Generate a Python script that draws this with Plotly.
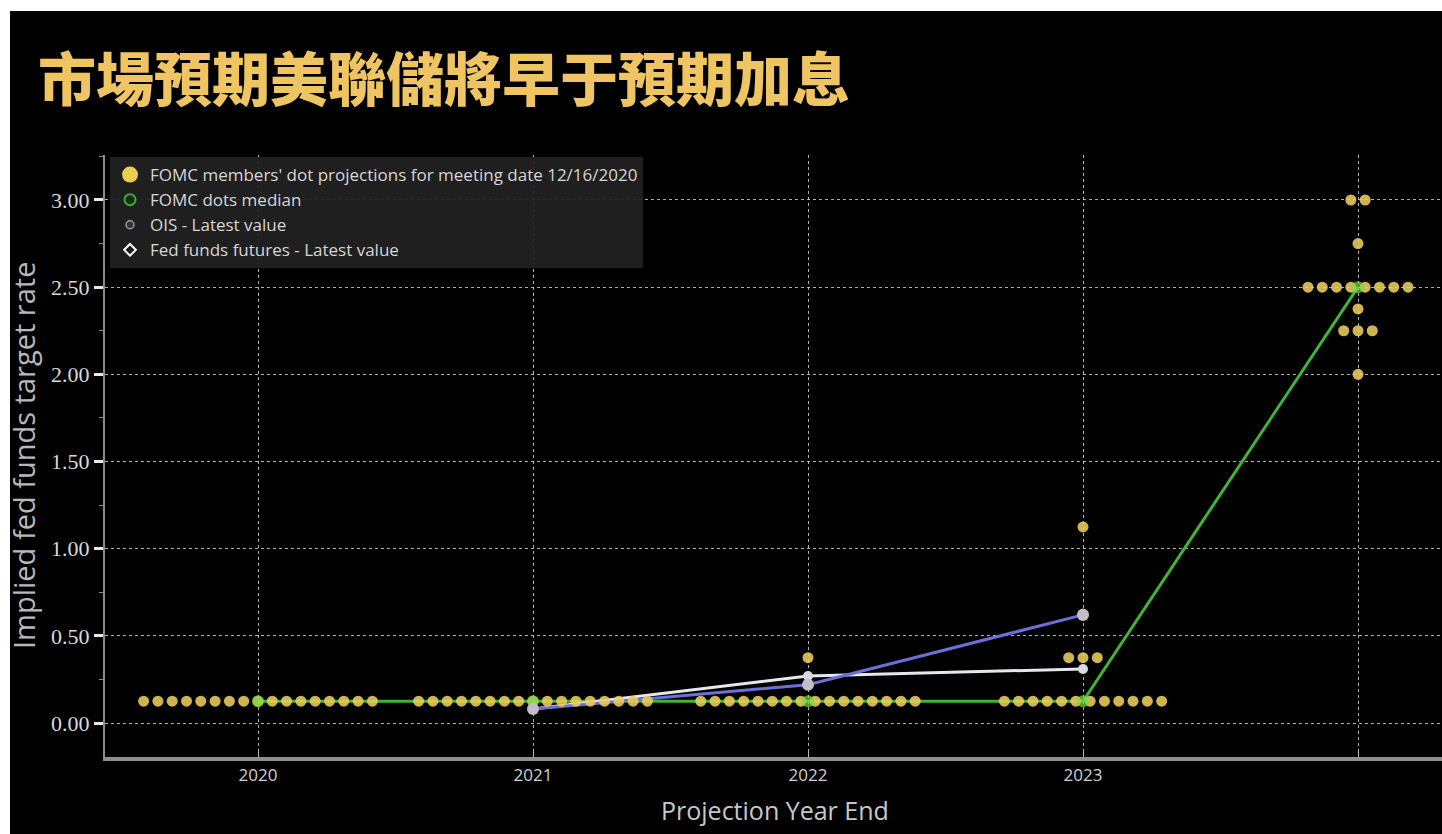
import plotly.graph_objects as go

# ---------------- data ----------------
categories = ["2020", "2021", "2022", "2023", "Longer run"]
cat_x = [2020, 2021, 2022, 2023, 2024]

# FOMC dot plot (12/16/2020): rate levels and number of participants at each level
dot_rates_2020 = [0.125]
dot_counts_2020 = [17]
dot_rates_2021 = [0.125]
dot_counts_2021 = [17]
dot_rates_2022 = [0.125, 0.375]
dot_counts_2022 = [16, 1]
dot_rates_2023 = [0.125, 0.375, 0.625, 1.125]
dot_counts_2023 = [12, 3, 1, 1]
dot_rates_lr = [2.0, 2.25, 2.375, 2.5, 2.75, 3.0]
dot_counts_lr = [1, 3, 1, 8, 1, 2]

median_values = [0.125, 0.125, 0.125, 0.125, 2.5]

market_x = [2021, 2022, 2023]
ois_values = [0.08, 0.22, 0.62]
futures_values = [0.08, 0.27, 0.31]

y_tickvals = [0.0, 0.5, 1.0, 1.5, 2.0, 2.5, 3.0]
x_ticktext = ["2020", "2021", "2022", "2023", ""]

title_text = "市場預期美聯儲將早于預期加息"

# ---------------- layout geometry ----------------
W, H = 1442, 834
ML, MR, MT, MB = 105, 0, 155, 77
PW, PH = W - ML - MR, H - MT - MB
spacing = 0.052  # horizontal spread between dots in a row (years)


def px_to_paper_x(px):
    return (px - ML) / PW


def px_to_paper_y(py):
    return (H - MB - py) / PH


# expand dot groups into beeswarm rows
dot_x, dot_y = [], []
for cx, rates, counts in zip(
    cat_x,
    [dot_rates_2020, dot_rates_2021, dot_rates_2022, dot_rates_2023, dot_rates_lr],
    [dot_counts_2020, dot_counts_2021, dot_counts_2022, dot_counts_2023, dot_counts_lr],
):
    for r, n in zip(rates, counts):
        for i in range(n):
            dot_x.append(cx + (i - (n - 1) / 2) * spacing)
            dot_y.append(r)

fig = go.Figure()

legend_font = dict(family="Open Sans, DejaVu Sans", size=17, color="#d6d6d6")

# median line (underneath)
fig.add_trace(go.Scatter(x=cat_x, y=median_values, mode="lines",
                         line=dict(color="#3fb435", width=3), showlegend=False, hoverinfo="skip"))
# market lines
fig.add_trace(go.Scatter(x=market_x, y=futures_values, mode="lines",
                         line=dict(color="#e6e6ee", width=3), showlegend=False, hoverinfo="skip"))
fig.add_trace(go.Scatter(x=market_x, y=ois_values, mode="lines",
                         line=dict(color="#6d6fd8", width=3), showlegend=False, hoverinfo="skip"))

# dots
fig.add_trace(go.Scatter(x=dot_x, y=dot_y, mode="markers",
                         marker=dict(size=11, color="#ecce5c", opacity=0.88),
                         showlegend=False, name="FOMC members' dot projections"))
# medians
fig.add_trace(go.Scatter(x=cat_x, y=median_values, mode="markers",
                         marker=dict(size=12, color="rgba(120,215,70,0.7)"),
                         showlegend=False, name="FOMC dots median"))
# market markers
fig.add_trace(go.Scatter(x=market_x, y=futures_values, mode="markers",
                         marker=dict(size=10, color="#d8d8e0", symbol="circle"),
                         showlegend=False, name="Fed funds futures"))
fig.add_trace(go.Scatter(x=market_x, y=ois_values, mode="markers",
                         marker=dict(size=12, color="#c4bccc", symbol="circle"),
                         showlegend=False, name="OIS"))

# legend entries
fig.add_trace(go.Scatter(x=[None], y=[None], mode="markers",
                         marker=dict(size=16, color="#eccd52"),
                         name="FOMC members' dot projections for meeting date 12/16/2020"))
fig.add_trace(go.Scatter(x=[None], y=[None], mode="markers",
                         marker=dict(size=11, color="#1a2a14", line=dict(color="#3fa83a", width=2)),
                         name="FOMC dots median"))
fig.add_trace(go.Scatter(x=[None], y=[None], mode="markers",
                         marker=dict(size=8, color="#333", line=dict(color="#9a9aa6", width=1.5)),
                         name="OIS - Latest value"))
fig.add_trace(go.Scatter(x=[None], y=[None], mode="markers",
                         marker=dict(size=9, symbol="diamond-open", color="#ffffff", line=dict(width=2)),
                         name="Fed funds futures - Latest value"))

x_lo = 2020 - (258 - ML) / 275
x_hi = 2020 + (W - 258) / 275
y_lo = -(757 - 723) / 174.4
y_hi = 3.0 + (200 - MT) / 174.4

fig.update_layout(
    width=W, height=H,
    margin=dict(l=ML, r=MR, t=MT, b=MB, pad=0),
    paper_bgcolor="#000000",
    plot_bgcolor="#000000",
    showlegend=True,
    legend=dict(x=px_to_paper_x(110), y=px_to_paper_y(157), xanchor="left", yanchor="top",
                bgcolor="rgba(34,34,34,0.92)", borderwidth=0, font=legend_font,
                tracegroupgap=0),
    xaxis=dict(
        range=[x_lo, x_hi],
        tickvals=cat_x, ticktext=x_ticktext,
        showgrid=True, gridcolor="rgba(220,220,220,0.8)", griddash="dot", gridwidth=1,
        zeroline=False,
        showline=True, linecolor="#8f8f8f", linewidth=4,
        ticks="inside", ticklen=6, tickcolor="#bbbbbb", tickwidth=1,
        tickfont=dict(family="Open Sans, DejaVu Sans", size=17, color="#d0d0d0"),
    ),
    yaxis=dict(
        range=[y_lo, y_hi],
        tickvals=y_tickvals, tickformat=".2f",
        showgrid=True, gridcolor="rgba(220,220,220,0.8)", griddash="dot", gridwidth=1,
        zeroline=False,
        showline=True, linecolor="#8a8a8a", linewidth=2,
        ticks="outside", ticklen=9, tickwidth=3, tickcolor="#e8e8e8",
        minor=dict(ticks="outside", ticklen=4, tickwidth=1, tickcolor="#888888", dtick=0.25, showgrid=False),
        tickfont=dict(family="Liberation Serif, DejaVu Serif", size=22, color="#d8d8d8"),
    ),
    annotations=[
        dict(text=title_text, xref="paper", yref="paper",
             x=px_to_paper_x(36), y=px_to_paper_y(76), xanchor="left", yanchor="middle",
             showarrow=False,
             font=dict(family="Noto Sans CJK TC", size=58, color="#efc463", weight=900)),
        dict(text="Implied fed funds target rate", xref="paper", yref="paper",
             x=px_to_paper_x(23), y=px_to_paper_y(456), xanchor="center", yanchor="middle",
             textangle=-90, showarrow=False,
             font=dict(family="Open Sans", size=29, color="#b8b8b8")),
        dict(text="Projection Year End", xref="paper", yref="paper",
             x=px_to_paper_x(775), y=px_to_paper_y(810), xanchor="center", yanchor="middle",
             showarrow=False,
             font=dict(family="Open Sans", size=25, color="#c8c8c8")),
    ],
    shapes=[
        dict(type="rect", xref="paper", yref="paper", layer="above",
             x0=px_to_paper_x(-5), x1=px_to_paper_x(W + 5), y0=px_to_paper_y(11), y1=px_to_paper_y(-5),
             fillcolor="#ffffff", line=dict(width=0)),
        dict(type="rect", xref="paper", yref="paper", layer="above",
             x0=px_to_paper_x(-5), x1=px_to_paper_x(10), y0=px_to_paper_y(H + 5), y1=px_to_paper_y(-5),
             fillcolor="#ffffff", line=dict(width=0)),
    ],
)

fig.write_html("out.html")
